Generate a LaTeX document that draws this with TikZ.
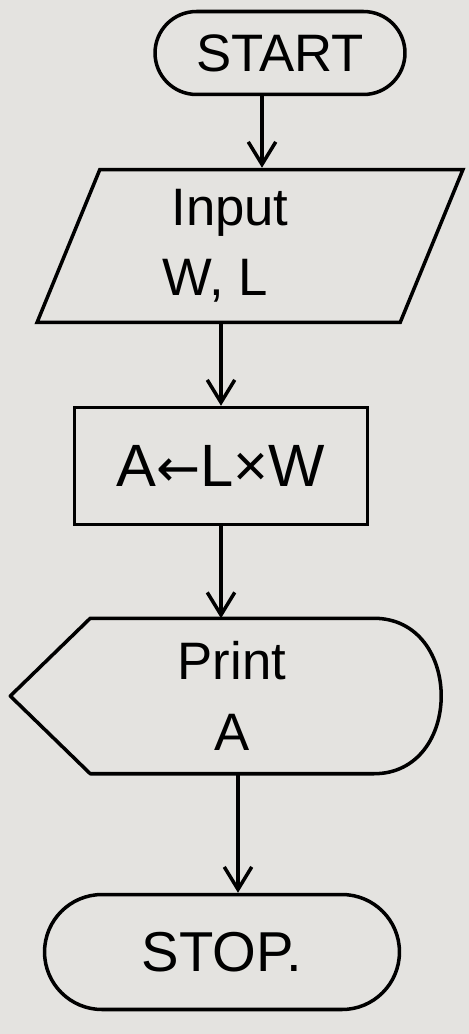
\documentclass[tikz,border=0pt]{standalone}
\usepackage{fontspec}
\setmainfont{Liberation Sans}
\newfontfamily\arrowfont{DejaVu Sans}
\usetikzlibrary{shapes.misc,shapes.geometric,arrows.meta}
\definecolor{paper}{RGB}{228,227,224}
\tikzset{
  box/.style={draw,line width=2pt,align=center,inner sep=0pt,font=\fontsize{30}{40}\selectfont},
  term/.style={box,rounded rectangle},
  io/.style={box,trapezium,trapezium left angle=61,trapezium right angle=119,trapezium stretches body},
  flow/.style={line width=2pt,-{Straight Barb[length=4.5mm,width=5.5mm]}}
}
\begin{document}
\begin{tikzpicture}[x=0.02cm,y=-0.02cm]
  \fill[paper] (0,0) rectangle (469,1034);
  % terminals and steps
  \node[term,minimum width=5cm,minimum height=1.66cm] (start) at (280,53) {START};
  \node[io,minimum width=8.52cm,minimum height=3.06cm] (input) at (250,246) {Input\hspace*{0.8cm}\\W, L\hspace*{1.4cm}};
  \node[box,minimum width=5.86cm,minimum height=2.34cm,font=\fontsize{34}{40}\selectfont] (calc) at (221,466) {A{\arrowfont\fontsize{30}{40}\selectfont ←}L×W};
  \node[box,draw=none,minimum width=5.6cm,minimum height=3.04cm] (print) at (232,696) {Print\\A};
  \draw[line width=2pt,line join=round] (print.north west) -- (print.north east)
    .. controls ([xshift=1.8cm]print.north east) and ([xshift=1.8cm]print.south east) .. (print.south east)
    -- (print.south west) -- ([xshift=-1.6cm]print.west) -- cycle;
  \node[term,minimum width=7.1cm,minimum height=2.3cm,font=\fontsize{32}{40}\selectfont] (stop) at (222,952) {STOP.};
  % arrows
  \draw[flow] ([xshift=-0.36cm]start.south) -- ([xshift=-0.36cm]start.south |- input.north);
  \draw[flow] (calc.north |- input.south) -- (calc.north);
  \draw[flow] (calc.south) -- (calc.south |- print.north);
  \draw[flow] ([xshift=0.12cm]print.south) -- ([xshift=0.12cm]print.south |- stop.north);
\end{tikzpicture}
\end{document}
